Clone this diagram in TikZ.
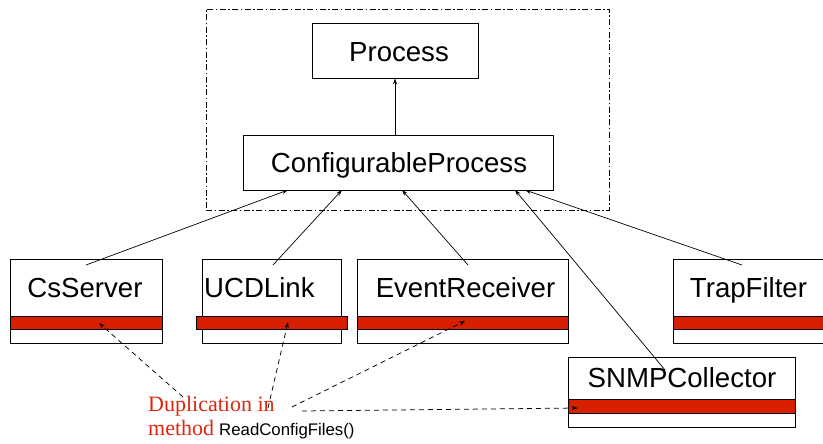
\documentclass[tikz,border=0pt]{standalone}
\usepackage{fontspec}
\setmainfont{Liberation Sans}
\newfontfamily\notefont{Liberation Serif}
\usetikzlibrary{arrows.meta}
\definecolor{bandred}{RGB}{216,32,0}
\definecolor{notered}{RGB}{222,40,16}

\begin{document}
\begin{tikzpicture}[x=1pt,y=-1pt,
  classbox/.style={draw, line width=0.9pt, fill=white, inner sep=0pt},
  band/.style={draw, line width=0.9pt, fill=bandred, inner sep=0pt, minimum height=13pt},
  classname/.style={font=\fontsize{27.6}{27.6}\selectfont, inner sep=0pt, anchor=base},
  frame/.style={draw, line width=0.8pt, inner sep=0pt,
    dash pattern=on 6pt off 2.5pt on 1.5pt off 2.5pt},
  gen/.style={line width=0.7pt, -{Stealth[length=6pt,width=4pt]}},
  dup/.style={line width=0.75pt, dash pattern=on 5pt off 4pt,
    -{Stealth[length=6pt,width=4pt]}},
  note/.style={anchor=base west, inner sep=0pt, text=notered,
    font=\notefont\fontsize{22}{22}\selectfont},
]
\clip (0,0) rectangle (823,444);
\fill[white] (0,0) rectangle (823,444);

% package frame around the two base classes
\node[frame, minimum width=403pt, minimum height=201pt] (group) at (407.5,109.5) {};

% base classes
\node[classbox, minimum width=166pt, minimum height=55pt] (proc) at (395,50.5) {};
\node[classname] (proclbl) at (399,62) {Process};
\node[classbox, minimum width=310pt, minimum height=55pt] (cp) at (398,162.5) {};
\node[classname] (cplbl) at (399,172) {ConfigurableProcess};

% derived classes, each with its method compartment
\node[classbox, minimum width=152pt, minimum height=84pt] (cs) at (86,301) {};
\node[band, minimum width=152pt] (csband) at (86,322.5) {};
\node[classname] (cslbl) at (85,297) {CsServer};

\node[classbox, minimum width=139pt, minimum height=84pt] (ucd) at (271.5,301) {};
\node[band, minimum width=151pt] (ucdband) at (271.5,322.5) {};
\node[classname, anchor=base west] (ucdlbl) at (204,297) {UCDLink};

\node[classbox, minimum width=211pt, minimum height=84pt] (ev) at (462.5,301) {};
\node[band, minimum width=211pt] (evband) at (462.5,322.5) {};
\node[classname] (evlbl) at (465.5,297) {EventReceiver};

\node[classbox, minimum width=162pt, minimum height=84pt] (trap) at (754,301) {};
\node[band, minimum width=162pt] (trapband) at (754,322.5) {};
\node[classname] (traplbl) at (748.5,297) {TrapFilter};

\node[classbox, minimum width=227pt, minimum height=70pt] (snmp) at (681.5,392) {};
\node[band, minimum width=227pt, minimum height=14pt] (snmpband) at (681.5,406) {};
\node[classname] (snmplbl) at (682,387) {SNMPCollector};

% inheritance connectors
\draw[gen] (cp.north -| proc.south) -- (proc.south);

\coordinate (cs-top) at (86,265);
\coordinate (ucd-top) at (273,265);
\coordinate (ev-top) at (468,265);
\coordinate (trap-top) at (742,265);
\coordinate (snmp-top) at (665,370);
\coordinate (cp-a) at (288,190);
\coordinate (cp-b) at (342,190);
\coordinate (cp-c) at (402,190);
\coordinate (cp-d) at (515,190);
\coordinate (cp-e) at (525,190);

\draw[gen] (cs-top) -- (cp-a);
\draw[gen] (ucd-top) -- (cp-b);
\draw[gen] (ev-top) -- (cp-c);
\draw[gen] (snmp-top) -- (cp-d);
\draw[gen] (trap-top) -- (cp-e);

% note on the duplicated method
\node[note] (note1) at (148,411) {Duplication in};
\node[note] (note2) at (148,435) {method};
\node[anchor=base west, inner sep=0pt,
  font=\fontsize{16.8}{16.8}\selectfont] (note3) at (219,435) {ReadConfigFiles()};

\coordinate (d1) at (183,397);
\coordinate (d2) at (268,408);
\coordinate (d3) at (292,407);
\coordinate (d4) at (302,411);
\coordinate (cs-m) at (99,323);
\coordinate (ucd-m) at (288,322);
\coordinate (ev-m) at (465,321);
\coordinate (snmp-m) at (578,408);

\draw[dup] (d1) -- (cs-m);
\draw[dup] (d2) -- (ucd-m);
\draw[dup] (d3) -- (ev-m);
\draw[dup] (d4) -- (snmp-m);
\end{tikzpicture}
\end{document}
